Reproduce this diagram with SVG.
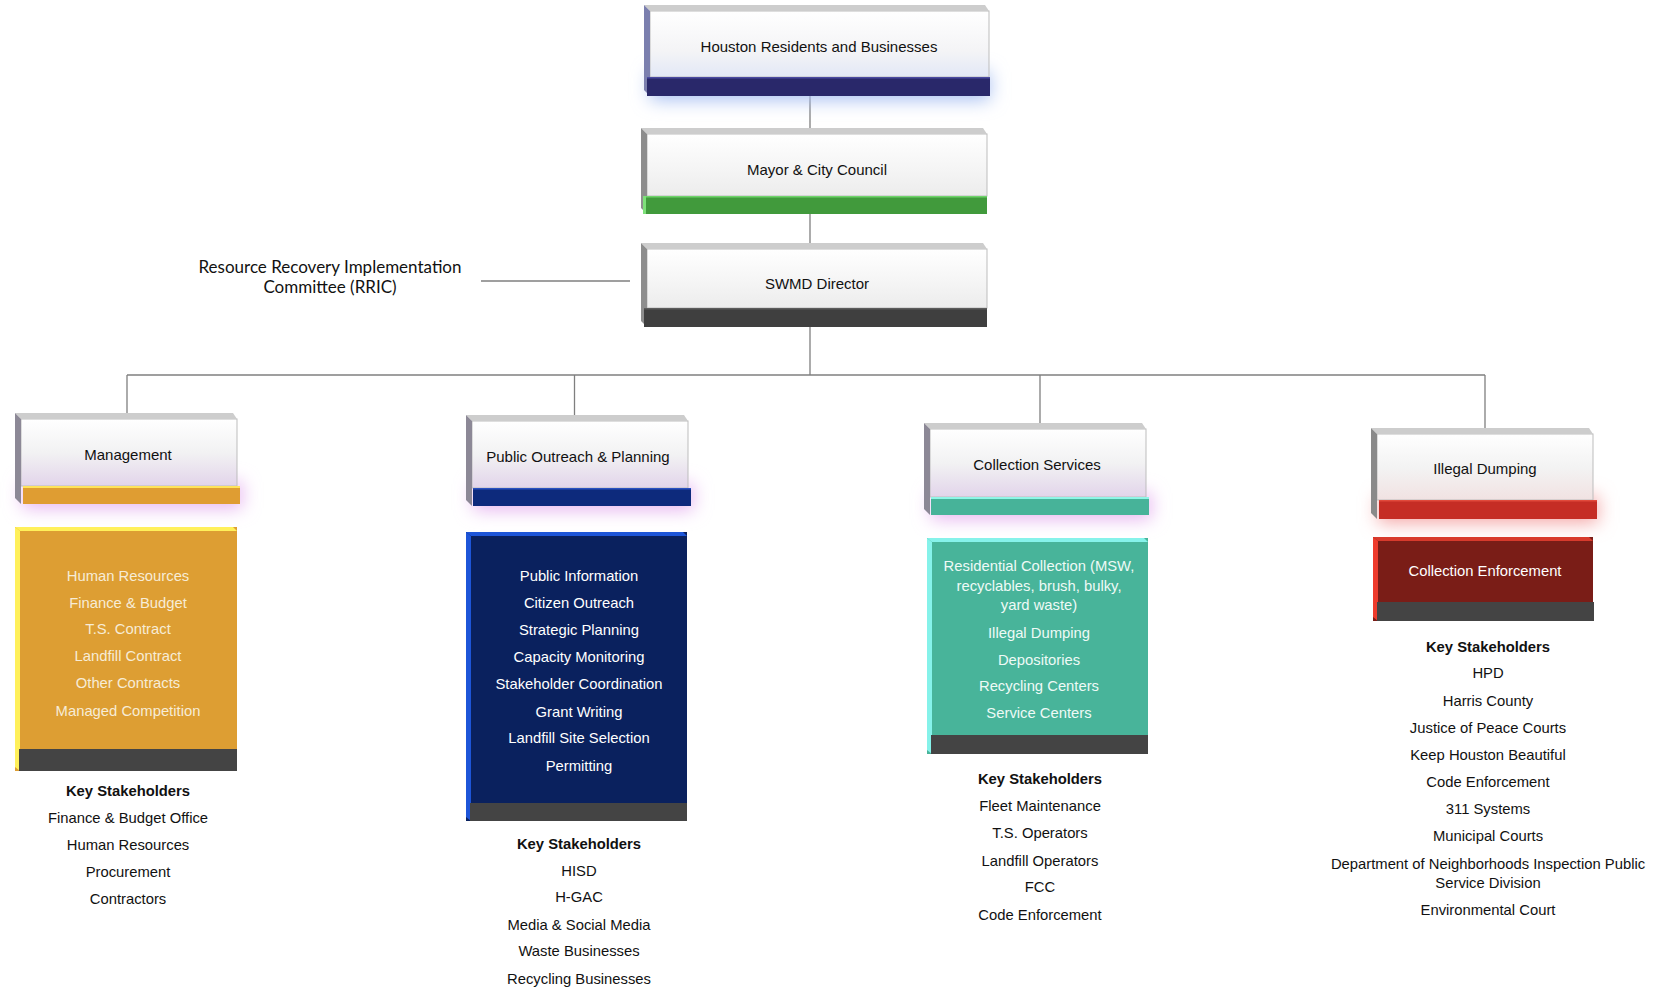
<svg xmlns="http://www.w3.org/2000/svg" width="1668" height="990" viewBox="0 0 1668 990">
<defs>
<linearGradient id="faceB" x1="0" y1="0" x2="0" y2="1"><stop offset="0" stop-color="#ffffff"/><stop offset="0.6" stop-color="#f4f4f6"/><stop offset="1" stop-color="#e2e8f6"/></linearGradient>
<linearGradient id="faceP" x1="0" y1="0" x2="0" y2="1"><stop offset="0" stop-color="#ffffff"/><stop offset="0.5" stop-color="#f2f2f3"/><stop offset="1" stop-color="#e2d4ea"/></linearGradient>
<linearGradient id="faceG" x1="0" y1="0" x2="0" y2="1"><stop offset="0" stop-color="#ffffff"/><stop offset="0.6" stop-color="#f4f4f4"/><stop offset="1" stop-color="#ececec"/></linearGradient>
<linearGradient id="faceR" x1="0" y1="0" x2="0" y2="1"><stop offset="0" stop-color="#ffffff"/><stop offset="0.5" stop-color="#f3f3f3"/><stop offset="1" stop-color="#f1e2e2"/></linearGradient>
<filter id="glow" x="-20%" y="-150%" width="140%" height="400%"><feGaussianBlur stdDeviation="9"/></filter>
</defs>
<style>
.top{fill:#cdcdcd}
.side{fill:#8d8d8d}
.edge{stroke:#bdbdbd;stroke-width:1}
.dark{fill:#444444}
.hd{font-family:"Liberation Sans",Arial,sans-serif;font-size:15px;fill:#111;text-anchor:middle}
.ct{font-family:"Liberation Sans",Arial,sans-serif;font-size:14.8px;text-anchor:middle}
.ks{font-family:"Liberation Sans",Arial,sans-serif;font-size:14.8px;fill:#111;text-anchor:middle}
.kb{font-weight:bold}
.cal{font-family:Lato,"Open Sans",sans-serif;font-size:17px;fill:#111;text-anchor:middle}
.ln{stroke:#7f7f7f;stroke-width:1.3;fill:none}
</style>
<rect width="1668" height="990" fill="#ffffff"/>

<g id="connectors">
<line class="ln" x1="810" y1="96" x2="810" y2="128"/>
<line class="ln" x1="810" y1="214" x2="810" y2="243"/>
<line class="ln" x1="810" y1="327" x2="810" y2="375"/>
<line class="ln" x1="127" y1="375" x2="1485" y2="375"/>
<line class="ln" x1="127" y1="375" x2="127" y2="413"/>
<line class="ln" x1="574.5" y1="375" x2="574.5" y2="415"/>
<line class="ln" x1="1040" y1="375" x2="1040" y2="423"/>
<line class="ln" x1="1485" y1="375" x2="1485" y2="428"/>
<line class="ln" x1="481" y1="281" x2="630" y2="281"/>
</g>

<g id="rric">
<text class="cal" x="330" y="273">Resource Recovery Implementation</text>
<text class="cal" x="330" y="293">Committee (RRIC)</text>
</g>

<g id="houston">
<rect x="650" y="72" width="340" height="28" fill="#a8c0f2" filter="url(#glow)"/>
<rect x="650" y="11" width="339" height="66" fill="url(#faceB)" class="edge"/>
<polygon class="top" points="644,5 985,5 989,11 650,11"/>
<polygon fill="#7b7fae" points="644,5 650,11 650,96 644,90"/>
<rect x="647" y="77" width="343" height="19" fill="#29286a"/>
<rect x="647" y="77" width="343" height="1.5" fill="#4a4aa0"/>
<text class="hd" x="819" y="52">Houston Residents and Businesses</text>
</g>

<g id="mayor">
<rect x="647" y="134" width="340" height="62" fill="url(#faceG)" class="edge"/>
<polygon class="top" points="641,128 983,128 987,134 647,134"/>
<polygon class="side" points="641,128 647,134 647,214 641,208"/>
<rect x="643" y="196" width="344" height="18" fill="#419a3c"/>
<rect x="643" y="196" width="344" height="1.5" fill="#6fd46a"/>
<rect x="643" y="196" width="3" height="18" fill="#7ee07a"/>
<text class="hd" x="817" y="175">Mayor &amp; City Council</text>
</g>

<g id="swmd">
<rect x="647" y="249" width="340" height="59" fill="url(#faceG)" class="edge"/>
<polygon class="top" points="641,243 983,243 987,249 647,249"/>
<polygon class="side" points="641,243 647,249 647,327 641,321"/>
<rect x="644" y="308" width="343" height="19" fill="#3f3f3f"/>
<rect x="644" y="308" width="343" height="1.5" fill="#5c5c5c"/>
<text class="hd" x="817" y="289">SWMD Director</text>
</g>

<g id="management">
<rect x="22" y="482" width="220" height="26" fill="#e6b4f0" filter="url(#glow)"/>
<rect x="21" y="419" width="216" height="67" fill="url(#faceP)" class="edge"/>
<polygon class="top" points="15,413 233,413 237,419 21,419"/>
<polygon fill="#8c8896" points="15,413 21,419 21,504 15,498"/>
<rect x="23" y="486" width="217" height="18" fill="#df9d32"/>
<rect x="23" y="486" width="217" height="2" fill="#ffe35a"/>
<text class="hd" x="128" y="460">Management</text>
</g>
<g id="management-functions">
<rect x="15" y="527" width="222" height="244" fill="#dd9e33"/>
<polygon fill="#fff05a" points="15,527 233,527 237,531 20,531"/>
<polygon fill="#fff05a" points="15,527 20,531 20,771 15,767"/>
<rect class="dark" x="19" y="749" width="218" height="22"/>
<g class="ct" fill="#f7ecd6">
<text x="128" y="581">Human Resources</text>
<text x="128" y="608">Finance &amp; Budget</text>
<text x="128" y="634">T.S. Contract</text>
<text x="128" y="661">Landfill Contract</text>
<text x="128" y="688">Other Contracts</text>
<text x="128" y="716">Managed Competition</text>
</g>
</g>
<g id="management-stakeholders" class="ks">
<text class="kb" x="128" y="796">Key Stakeholders</text>
<text x="128" y="823">Finance &amp; Budget Office</text>
<text x="128" y="850">Human Resources</text>
<text x="128" y="877">Procurement</text>
<text x="128" y="904">Contractors</text>
</g>

<g id="outreach">
<rect x="473" y="484" width="220" height="26" fill="#e6b4f0" filter="url(#glow)"/>
<rect x="472" y="421" width="216" height="67" fill="url(#faceP)" class="edge"/>
<polygon class="top" points="466,415 684,415 688,421 472,421"/>
<polygon fill="#8c8896" points="466,415 472,421 472,506 466,500"/>
<rect x="473" y="488" width="218" height="18" fill="#0d2a7c"/>
<rect x="473" y="488" width="218" height="1.5" fill="#2a50c0"/>
<text class="hd" x="578" y="462">Public Outreach &amp; Planning</text>
</g>
<g id="outreach-functions">
<rect x="466" y="532" width="221" height="289" fill="#0a215e"/>
<polygon fill="#1d55d8" points="466,532 683,532 687,536 471,536"/>
<polygon fill="#1d55d8" points="466,532 471,536 471,821 466,817"/>
<rect class="dark" x="470" y="803" width="217" height="18"/>
<g class="ct" fill="#ffffff">
<text x="579" y="581">Public Information</text>
<text x="579" y="608">Citizen Outreach</text>
<text x="579" y="635">Strategic Planning</text>
<text x="579" y="662">Capacity Monitoring</text>
<text x="579" y="689">Stakeholder Coordination</text>
<text x="579" y="717">Grant Writing</text>
<text x="579" y="743">Landfill Site Selection</text>
<text x="579" y="771">Permitting</text>
</g>
</g>
<g id="outreach-stakeholders" class="ks">
<text class="kb" x="579" y="849">Key Stakeholders</text>
<text x="579" y="876">HISD</text>
<text x="579" y="902">H-GAC</text>
<text x="579" y="930">Media &amp; Social Media</text>
<text x="579" y="956">Waste Businesses</text>
<text x="579" y="984">Recycling Businesses</text>
</g>

<g id="collection">
<rect x="931" y="493" width="220" height="26" fill="#e6b4f0" filter="url(#glow)"/>
<rect x="930" y="429" width="216" height="68" fill="url(#faceP)" class="edge"/>
<polygon class="top" points="924,423 1142,423 1146,429 930,429"/>
<polygon fill="#8c8896" points="924,423 930,429 930,515 924,509"/>
<rect x="931" y="497" width="218" height="18" fill="#47b399"/>
<rect x="931" y="497" width="218" height="2" fill="#8ff5e6"/>
<text class="hd" x="1037" y="470">Collection Services</text>
</g>
<g id="collection-functions">
<rect x="927" y="538" width="221" height="216" fill="#48b49a"/>
<polygon fill="#86f2ea" points="927,538 1144,538 1148,542 932,542"/>
<polygon fill="#86f2ea" points="927,538 932,542 932,754 927,750"/>
<rect class="dark" x="931" y="735" width="217" height="19"/>
<g class="ct" fill="#eefaf6">
<text x="1039" y="571">Residential Collection (MSW,</text>
<text x="1039" y="591">recyclables, brush, bulky,</text>
<text x="1039" y="610">yard waste)</text>
<text x="1039" y="638">Illegal Dumping</text>
<text x="1039" y="665">Depositories</text>
<text x="1039" y="691">Recycling Centers</text>
<text x="1039" y="718">Service Centers</text>
</g>
</g>
<g id="collection-stakeholders" class="ks">
<text class="kb" x="1040" y="784">Key Stakeholders</text>
<text x="1040" y="811">Fleet Maintenance</text>
<text x="1040" y="838">T.S. Operators</text>
<text x="1040" y="866">Landfill Operators</text>
<text x="1040" y="892">FCC</text>
<text x="1040" y="920">Code Enforcement</text>
</g>

<g id="illegal">
<rect x="1378" y="496" width="220" height="27" fill="#f4a6a6" filter="url(#glow)"/>
<rect x="1377" y="434" width="216" height="66" fill="url(#faceR)" class="edge"/>
<polygon class="top" points="1371,428 1589,428 1593,434 1377,434"/>
<polygon fill="#8a8a8a" points="1371,428 1377,434 1377,519 1371,513"/>
<rect x="1379" y="500" width="218" height="19" fill="#c52d25"/>
<rect x="1379" y="500" width="218" height="1.5" fill="#e24a3c"/>
<text class="hd" x="1485" y="474">Illegal Dumping</text>
</g>
<g id="illegal-functions">
<rect x="1373" y="537" width="220" height="84" fill="#7a1d17"/>
<polygon fill="#d83a2c" points="1373,537 1589,537 1593,541 1378,541"/>
<polygon fill="#ee3b2c" points="1373,537 1378,541 1378,621 1373,617"/>
<rect class="dark" x="1377" y="602" width="217" height="19"/>
<text class="ct" fill="#ffffff" x="1485" y="576">Collection Enforcement</text>
</g>
<g id="illegal-stakeholders" class="ks">
<text class="kb" x="1488" y="652">Key Stakeholders</text>
<text x="1488" y="678">HPD</text>
<text x="1488" y="706">Harris County</text>
<text x="1488" y="733">Justice of Peace Courts</text>
<text x="1488" y="760">Keep Houston Beautiful</text>
<text x="1488" y="787">Code Enforcement</text>
<text x="1488" y="814">311 Systems</text>
<text x="1488" y="841">Municipal Courts</text>
<text x="1488" y="869">Department of Neighborhoods Inspection Public</text>
<text x="1488" y="888">Service Division</text>
<text x="1488" y="915">Environmental Court</text>
</g>
</svg>
